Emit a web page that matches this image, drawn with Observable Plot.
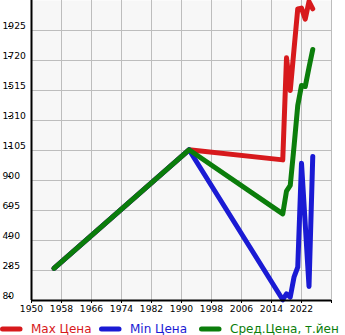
<!DOCTYPE html>
<html><head><meta charset="utf-8">
<script src="https://cdn.jsdelivr.net/npm/d3@7"></script>
<script src="https://cdn.jsdelivr.net/npm/@observablehq/plot@0.6"></script>
<style>
body{margin:0;background:#fff;font-family:"DejaVu Sans",sans-serif;width:345px;overflow:hidden}
#chart svg{display:block}
#legend{position:relative;height:20px;margin-top:1px;white-space:nowrap;font-size:12px;line-height:20px}
#legend .it{position:absolute;top:0;display:flex;align-items:center}
#legend svg{margin-right:6px}
</style></head><body>
<div id="chart"></div>
<div id="legend"></div>
<script>
const years = [1956, 1992, 2017, 2018, 2019, 2020, 2021, 2022, 2023, 2024, 2025];
const maxPrice = [300, 1110, 1041, 1738, 1515, 1795, 2073, 2078, 2003, 2123, 2073];
const minPrice = [300, 1110, 85, 126, 103, 239, 308, 1018, 600, 176, 1064];
const avgPrice = [300, 1110, 672, 827, 866, 1130, 1412, 1549, 1542, 1672, 1795];
const yTicks = [80, 285, 490, 695, 900, 1105, 1310, 1515, 1720, 1925];
const xTicks = [1950, 1958, 1966, 1974, 1982, 1990, 1998, 2006, 2014, 2022, 2030];
const seriesNames = ["Max Цена", "Min Цена", "Сред.Цена, т.йен"];
const seriesColors = ["#d7191c", "#1a1ad4", "#0b7d0b"];

const mk = (vals) => years.map((y, i) => ({year: y, value: vals[i]}));
const series = [mk(maxPrice), mk(minPrice), mk(avgPrice)];

const chart = Plot.plot({
  width: 345, height: 318,
  marginLeft: 31, marginRight: 14, marginTop: 0, marginBottom: 18,
  style: {fontFamily: "DejaVu Sans, sans-serif", fontSize: "9.2px", color: "#000", background: "#fff"},
  x: {domain: [1950, 2030], label: null},
  y: {domain: [80, 2130], label: null},
  marks: [
    Plot.frame({fill: "#f7f7f7", stroke: null}),
    Plot.gridX(xTicks, {stroke: "#bdbdbd", strokeOpacity: 1}),
    Plot.gridY(yTicks, {stroke: "#bdbdbd", strokeOpacity: 1}),
    Plot.axisX(xTicks, {tickSize: 3, tickPadding: 2, label: null, tickFormat: d => d === 2030 ? "" : String(d), stroke: "#000"}),
    Plot.axisY(yTicks, {tickSize: 3, label: null, textAnchor: "start", dx: -20, dy: -4, tickFormat: d => String(d), stroke: "#000"}),
    ...series.map((s, i) => Plot.line(s, {x: "year", y: "value", stroke: seriesColors[i], strokeWidth: 5, strokeLinecap: "round", strokeLinejoin: "round"})),
    Plot.ruleX([1950], {stroke: "#000", strokeWidth: 2}),
    Plot.ruleY([80], {stroke: "#000", strokeWidth: 2})
  ]
});
document.getElementById("chart").appendChild(chart);

const lg = document.getElementById("legend");
const lefts = [0, 99, 199];
seriesNames.forEach((n, i) => {
  const it = document.createElement("div");
  it.className = "it";
  it.style.left = lefts[i] + "px";
  it.style.color = seriesColors[i];
  it.innerHTML = `<svg width="25" height="20"><line x1="2.5" y1="10" x2="20" y2="10" stroke="${seriesColors[i]}" stroke-width="5" stroke-linecap="round"/></svg><span>${n}</span>`;
  lg.appendChild(it);
});
</script>
</body></html>
